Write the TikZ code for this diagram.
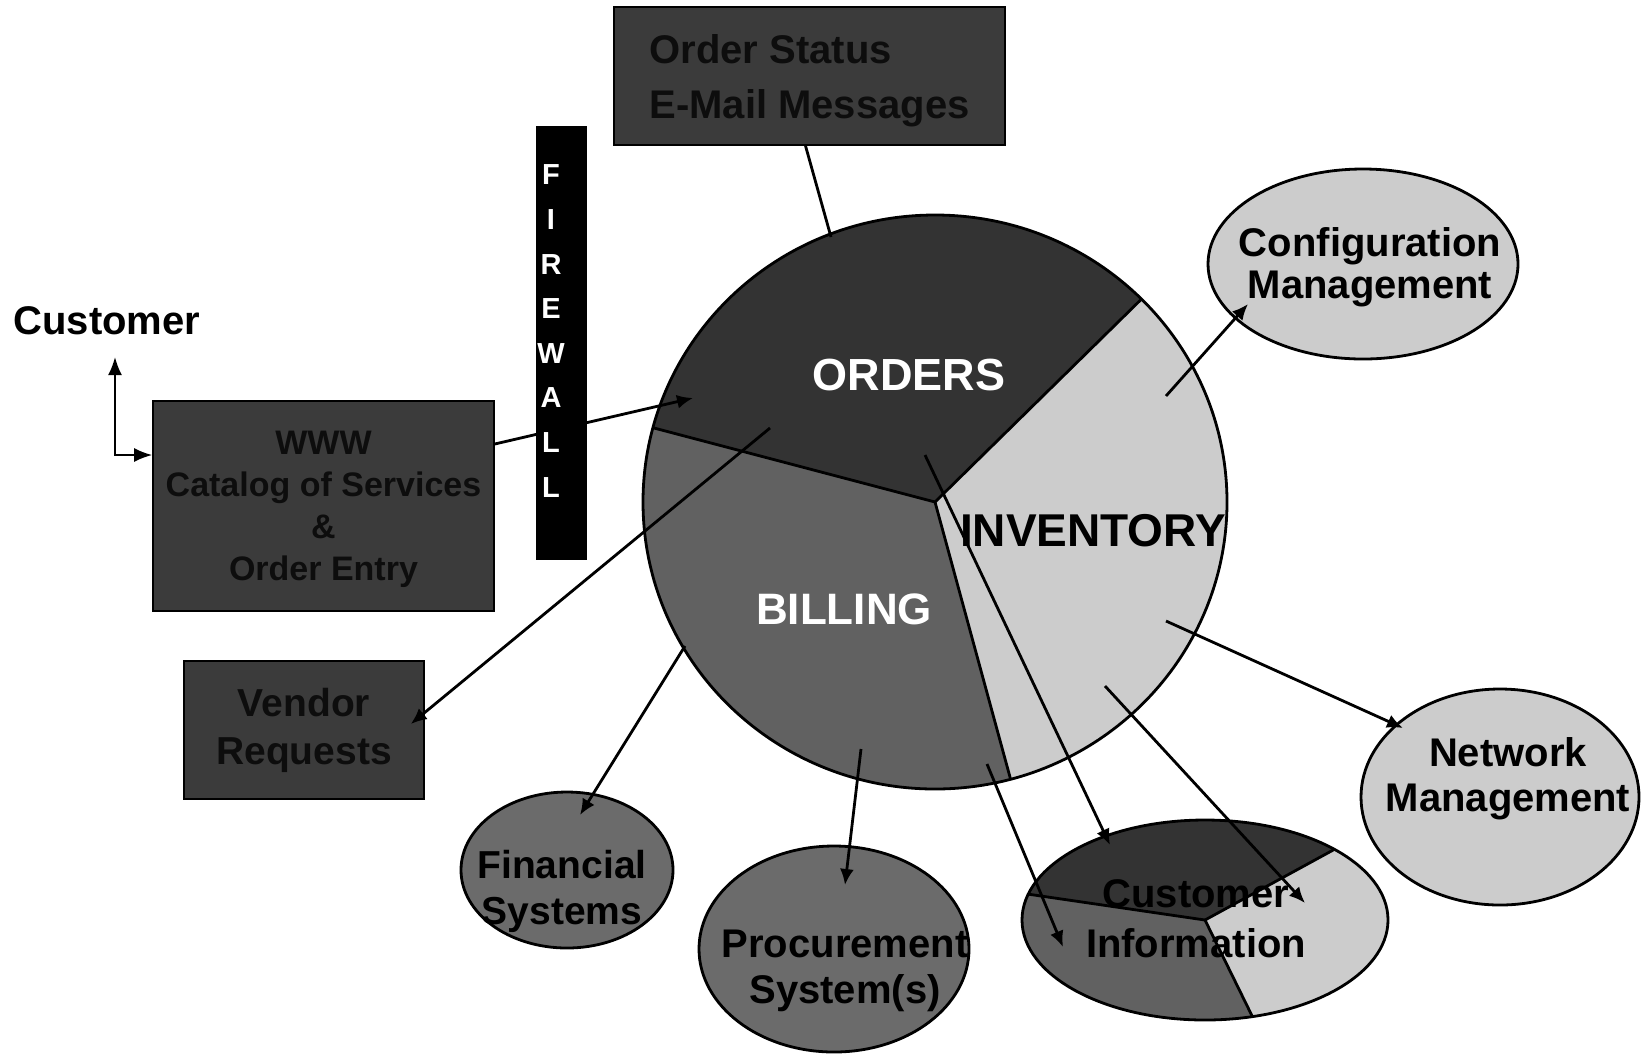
\documentclass[tikz,border=0pt]{standalone}
\usepackage{fontspec}
\setmainfont{Liberation Sans}
\usetikzlibrary{arrows.meta,shapes}
\newcommand{\fsz}[2]{\fontsize{#1}{#2}\selectfont}
\newcommand{\boxNode}{\node[rectangle,draw=black,line width=0.8pt,fill=black!77,text=black!95,inner sep=0pt]}
\newcommand{\sysNode}{\node[ellipse,draw=black,line width=1.4pt,inner sep=0pt]}
\newcommand{\txtNode}{\node[align=center,inner sep=0pt]}
\tikzset{
  link/.style={line width=1.4pt,-{Latex[length=8pt,width=7pt]}},
  slice/.style={line width=1.4pt},
  fwletter/.style={text=white,font=\fsz{14.5}{16}\bfseries,inner sep=0pt}
}

\begin{document}
\begin{tikzpicture}[x=0.5pt,y=-0.5pt]
\useasboundingbox (0,0) rectangle (1642,1057);

    % the pie
    \coordinate (pc) at (935,502);
    \fill[black!80] (pc) -- +(-45:292 and 287) arc[start angle=-45,end angle=-165,x radius=292,y radius=287] -- cycle;
    \fill[black!62] (pc) -- +(-165:292 and 287) arc[start angle=-165,end angle=-285,x radius=292,y radius=287] -- cycle;
    \fill[black!20] (pc) -- +(75:292 and 287) arc[start angle=75,end angle=-45,x radius=292,y radius=287] -- cycle;
    \foreach \a in {-45,-165,75}
             {
               \draw[slice] (pc) -- +(\a:292 and 287);
             };
    \draw[slice] (pc) ellipse[x radius=292,y radius=287];

    \node[text=white,font=\fsz{22.5}{27}\bfseries] (orders) at (909,375) {ORDERS};
    \node[text=white,font=\fsz{22}{27}\bfseries] (billing) at (844,609) {BILLING};
    \node[font=\fsz{23}{27}\bfseries] (inventory) at (1093,531) {INVENTORY};

    % customer information, a small pie
    \begin{scope}[shift={(1205,920)},yscale=0.546]
      \fill[black!80] (0,0) -- (-45:183) arc[start angle=-45,end angle=-165,radius=183] -- cycle;
      \fill[black!62] (0,0) -- (-165:183) arc[start angle=-165,end angle=-285,radius=183] -- cycle;
      \fill[black!20] (0,0) -- (75:183) arc[start angle=75,end angle=-45,radius=183] -- cycle;
      \foreach \a in {-45,-165,75}
               {
                 \draw[slice] (0,0) -- (\a:183);
               };
    \end{scope}
    \sysNode (custinfo) at (1205,920) [minimum width=183pt,minimum height=100pt] {};
    \txtNode (custtxt) at (1196,919) [font=\fsz{20}{25}\bfseries] {Customer\\Information};

    % boxes
    \boxNode (status) at (809.5,76) [minimum width=195.5pt,minimum height=69pt,align=left,font=\fsz{20}{27.5}\bfseries,text depth=-4pt] {Order Status\\E-Mail Messages};
    \boxNode (www) at (323.5,506) [minimum width=170.5pt,minimum height=105pt,align=center,font=\fsz{17}{21}\bfseries,text depth=-3pt] {WWW\\Catalog of Services\\\&\\Order Entry};
    \boxNode (vendor) at (304,730) [minimum width=120pt,minimum height=69pt,align=center,font=\fsz{19.5}{24}\bfseries] {Vendor\\Requests};

    \node[font=\fsz{20}{24}\bfseries] (customer) at (107,321) {Customer};

    % systems
    \sysNode[fill=black!20] (config) at (1363,264) [minimum width=155pt,minimum height=95pt] {};
    \txtNode (cfgtxt) at (1370,267) [font=\fsz{20}{21}\bfseries] {Configuration\\Management};
    \sysNode[fill=black!20] (network) at (1500,797) [minimum width=139pt,minimum height=108pt] {};
    \txtNode (nettxt) at (1508,779) [font=\fsz{20}{22.5}\bfseries] {Network\\Management};
    \sysNode[fill=black!58] (financial) at (567,870) [minimum width=106pt,minimum height=78pt] {};
    \txtNode (fintxt) at (562,891) [font=\fsz{19.5}{23}\bfseries] {Financial\\Systems};
    \sysNode[fill=black!58] (procure) at (834,949) [minimum width=135pt,minimum height=103pt] {};
    \txtNode (protxt) at (845,971) [font=\fsz{20}{23}\bfseries] {Procurement\\System(s)};

    % connectors
    \coordinate (ordSts) at (831,237);
    \coordinate (ordIn) at (693,398);
    \coordinate (ordVen) at (770,428);
    \coordinate (ordCus) at (925,455);
    \coordinate (bilFin) at (685,646);
    \coordinate (bilPro) at (861,749);
    \coordinate (bilCus) at (987,764);
    \coordinate (invCus) at (1105,686);
    \coordinate (invCfg) at (1166,396);
    \coordinate (invNet) at (1166,621);
    \coordinate (finIn) at (580,815);
    \coordinate (proIn) at (845,885);
    \coordinate (cusA) at (1063,947);
    \coordinate (cusB) at (1110,845);
    \coordinate (cusC) at (1305,903);
    \coordinate (cfgIn) at (1248,304);
    \coordinate (netIn) at (1403,728);
    \coordinate (custUp) at (115,357);

    \draw[line width=1.4pt] (ordSts) -- ([xshift=-2pt]status.south);
    \draw[link] ([yshift=31pt]www.east) -- (ordIn);
    \draw[link] (ordVen) -- ([xshift=-7pt,yshift=3pt]vendor.east);
    \draw[link] (bilFin) -- (finIn);
    \draw[link] (bilPro) -- (proIn);
    \draw[link] (bilCus) -- (cusA);
    \draw[link] (ordCus) -- (cusB);
    \draw[link] (invCus) -- (cusC);
    \draw[link] (invCfg) -- (cfgIn);
    \draw[link] (invNet) -- (netIn);
    \draw[line width=1pt,{Latex[length=9pt,width=7pt]}-{Latex[length=9pt,width=7pt]}] (custUp) |- ([yshift=25.5pt]www.west);

    % firewall
    \node[fill=black,minimum width=25.5pt,minimum height=217pt,inner sep=0pt] (firewall) at (561.5,343) {};
    \foreach \ch [count=\i from 0] in {F,I,R,E,W,A,L,L}
             {
               \node[fwletter] (fw\i) at (551,175+44.6*\i) {\ch};
             };

\end{tikzpicture}
\end{document}
